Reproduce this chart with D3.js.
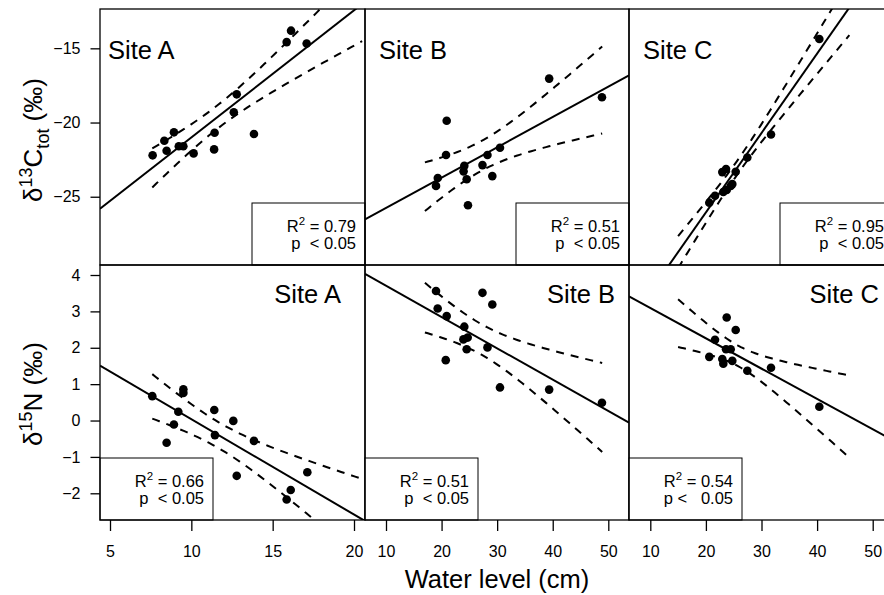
<!DOCTYPE html>
<html>
<head>
<meta charset="utf-8">
<script src="https://cdn.jsdelivr.net/npm/d3@7"></script>
<style>
body{margin:0;background:#fff}
text{font-family:"Liberation Sans",Arial,Helvetica,sans-serif;fill:#000;white-space:pre}
</style>
</head>
<body>
<script>
// water level (cm) and isotope values
var xA_C=[7.62,8.34,8.48,8.93,9.23,9.51,10.14,11.43,11.40,12.61,12.79,13.85,15.86,16.13,17.09];
var yA_C=[-22.21,-21.23,-21.90,-20.66,-21.60,-21.60,-22.08,-20.69,-21.81,-19.31,-18.10,-20.77,-14.58,-13.81,-14.68];
var xB_C=[20.92,20.80,19.32,19.00,24.09,23.96,24.52,24.75,27.36,28.26,29.13,30.51,39.36,48.86];
var yB_C=[-19.88,-22.19,-23.74,-24.27,-22.92,-23.29,-23.82,-25.57,-22.87,-22.19,-23.61,-21.70,-17.04,-18.30];
var xC_C=[20.61,21.64,22.95,23.13,23.62,23.74,24.46,24.75,25.36,27.45,31.71,40.40];
var yC_C=[-25.40,-24.93,-23.34,-24.68,-23.13,-24.55,-24.28,-24.15,-23.32,-22.36,-20.81,-14.37];

var xA_N=[7.60,8.48,8.93,9.20,9.51,9.51,11.41,11.45,12.58,12.79,13.85,15.86,16.11,17.13];
var yA_N=[0.67,-0.61,-0.11,0.24,0.86,0.76,0.29,-0.40,-0.01,-1.52,-0.56,-2.17,-1.91,-1.42];
var xB_N=[19.00,19.30,20.92,20.75,24.09,23.93,24.70,24.52,27.36,29.13,28.26,30.51,39.36,48.86];
var yB_N=[3.56,3.08,2.87,1.66,2.58,2.23,2.28,1.96,3.51,3.19,2.01,0.91,0.85,0.49];
var xC_N=[20.61,21.64,22.95,23.13,23.62,23.74,24.46,24.75,25.36,27.45,31.71,40.40];
var yC_N=[1.75,2.22,1.69,1.56,1.96,2.83,1.96,1.64,2.49,1.37,1.45,0.38];

// x range of the dashed confidence bands
var bandA=[7.6,20.5], bandB=[17,48.9], bandC=[15,45.8];

var siteNames=["Site A","Site B","Site C"];
var r2Top=["0.79","0.51","0.95"], r2Bottom=["0.66","0.51","0.54"];
var pTop=["p  < 0.05","p  < 0.05","p  < 0.05"], pBottom=["p  < 0.05","p  < 0.05","p <   0.05"];

var xTicksA=[5,10,15,20], xTicksBC=[10,20,30,40,50];
var yTicksTop=[-15,-20,-25], yTicksBottom=[-2,-1,0,1,2,3,4];

// two-sided 95% t quantiles
var tCrit={10:2.228,11:2.201,12:2.179,13:2.160,14:2.145};

var svgWidth=884, svgHeight=595;
var svg=d3.select("body").append("svg")
  .attr("width",svgWidth)
  .attr("height",svgHeight);

var colLeft=[100,365,629], colRight=[365,629,893];
var rowTop=[9,265], rowBottom=[265,520];

var xScales=[
  d3.scaleLinear().domain([4.385,20.676]).range([100,365]),
  d3.scaleLinear().domain([6.221,53.725]).range([365,629]),
  d3.scaleLinear().domain([6.169,53.65]).range([629,893])
];
var yScales=[
  d3.scaleLinear().domain([-29.6,-12.35]).range([265,9]),
  d3.scaleLinear().domain([-2.734,4.275]).range([520,265])
];

var panels=[
  {row:0,col:0,x:xA_C,y:yA_C,band:bandA,r2:r2Top[0],p:pTop[0]},
  {row:0,col:1,x:xB_C,y:yB_C,band:bandB,r2:r2Top[1],p:pTop[1]},
  {row:0,col:2,x:xC_C,y:yC_C,band:bandC,r2:r2Top[2],p:pTop[2]},
  {row:1,col:0,x:xA_N,y:yA_N,band:bandA,r2:r2Bottom[0],p:pBottom[0]},
  {row:1,col:1,x:xB_N,y:yB_N,band:bandB,r2:r2Bottom[1],p:pBottom[1]},
  {row:1,col:2,x:xC_N,y:yC_N,band:bandC,r2:r2Bottom[2],p:pBottom[2]}
];
// site label placement (top row left, bottom row right)
var labelPos=[[108,59],[379,59],[643,59],[341,303],[615,303],[879,303]];

function fit(xs,ys){
  var n=xs.length, mx=d3.mean(xs), my=d3.mean(ys);
  var sxx=0,sxy=0,syy=0;
  for(var i=0;i<n;i++){
    sxx+=(xs[i]-mx)*(xs[i]-mx);
    sxy+=(xs[i]-mx)*(ys[i]-my);
    syy+=(ys[i]-my)*(ys[i]-my);
  }
  var b=sxy/sxx, a=my-b*mx;
  var s=Math.sqrt((syy-b*sxy)/(n-2));
  return {a:a,b:b,s:s,n:n,mx:mx,sxx:sxx,t:tCrit[n-2]};
}

panels.forEach(function(p,k){
  var xs=xScales[p.col], ys=yScales[p.row];
  var x0=colLeft[p.col], x1=colRight[p.col], y0=rowTop[p.row], y1=rowBottom[p.row];
  var g=svg.append("g");
  svg.append("clipPath").attr("id","clip"+k)
    .append("rect").attr("x",x0).attr("y",y0).attr("width",x1-x0).attr("height",y1-y0);
  var inner=g.append("g").attr("clip-path","url(#clip"+k+")");
  var m=fit(p.x,p.y);

  var line=d3.line().x(function(d){return xs(d[0]);}).y(function(d){return ys(d[1]);});
  var dom=xs.domain();
  inner.append("path")
    .attr("d",line([[dom[0],m.a+m.b*dom[0]],[dom[1],m.a+m.b*dom[1]]]))
    .attr("fill","none").attr("stroke","#000").attr("stroke-width",2);

  var steps=d3.range(0,61).map(function(i){return p.band[0]+(p.band[1]-p.band[0])*i/60;});
  [-1,1].forEach(function(sg){
    var pts=steps.map(function(v){
      var se=m.s*Math.sqrt(1/m.n+(v-m.mx)*(v-m.mx)/m.sxx);
      return [v,m.a+m.b*v+sg*m.t*se];
    });
    inner.append("path").attr("d",line(pts))
      .attr("fill","none").attr("stroke","#000").attr("stroke-width",2)
      .attr("stroke-dasharray","8,7");
  });

  inner.selectAll("circle").data(p.x).enter().append("circle")
    .attr("cx",function(d){return xs(d);})
    .attr("cy",function(d,i){return ys(p.y[i]);})
    .attr("r",4.3).attr("fill","#000");

  // stats box
  var bw=113, bh=62;
  var bx=p.row===0?x1-bw:x0, by=y1-bh;
  g.append("rect").attr("x",bx).attr("y",by).attr("width",bw).attr("height",bh)
    .attr("fill","#fff").attr("stroke","#000").attr("stroke-width",1);
  var t1=g.append("text").attr("x",bx+bw-9).attr("y",y1-33)
    .attr("text-anchor","end").style("font-size","16.5px");
  t1.append("tspan").text("R");
  t1.append("tspan").attr("dy",-7).style("font-size","11.5px").text("2");
  t1.append("tspan").attr("dy",7).text(" = "+p.r2);
  g.append("text").attr("x",bx+bw-9).attr("y",y1-16)
    .attr("text-anchor","end").style("font-size","16.5px").text(p.p);

  g.append("text").attr("x",labelPos[k][0]).attr("y",labelPos[k][1])
    .attr("text-anchor",p.row===0?"start":"end")
    .style("font-size","25.5px").text(siteNames[p.col]);

  g.append("rect").attr("x",x0).attr("y",y0).attr("width",x1-x0).attr("height",y1-y0)
    .attr("fill","none").attr("stroke","#000").attr("stroke-width",1.3);
});

// axes
var fmt=d3.format("d");
var yAxisTop=d3.axisLeft(yScales[0]).tickValues(yTicksTop).tickSize(9.5).tickPadding(10).tickFormat(fmt);
var yAxisBottom=d3.axisLeft(yScales[1]).tickValues(yTicksBottom).tickSize(9.5).tickPadding(10).tickFormat(fmt);
[yAxisTop,yAxisBottom].forEach(function(a){
  var ax=svg.append("g").attr("transform","translate(100,0)").call(a);
  ax.select(".domain").remove();
  ax.selectAll("line").attr("stroke-width",1.3);
  ax.selectAll("text").style("font-size","16px").attr("font-family",null);
});
[d3.axisBottom(xScales[0]).tickValues(xTicksA),
 d3.axisBottom(xScales[1]).tickValues(xTicksBC),
 d3.axisBottom(xScales[2]).tickValues(xTicksBC)].forEach(function(a){
  var ax=svg.append("g").attr("transform","translate(0,520)")
    .call(a.tickSize(11).tickPadding(15).tickFormat(fmt));
  ax.select(".domain").remove();
  ax.selectAll("line").attr("stroke-width",1.3);
  ax.selectAll("text").style("font-size","16px").attr("font-family",null);
});

// axis titles
var yt=svg.append("text").attr("transform","translate(42,140) rotate(-90)")
  .attr("text-anchor","middle").style("font-size","26px");
yt.append("tspan").text("\u03b4");
yt.append("tspan").attr("dy",-10).style("font-size","18px").text("13");
yt.append("tspan").attr("dy",10).text("C");
yt.append("tspan").attr("dy",7).style("font-size","18px").text("tot");
yt.append("tspan").attr("dy",-7).text(" (\u2030)");

var yb=svg.append("text").attr("transform","translate(42,394) rotate(-90)")
  .attr("text-anchor","middle").style("font-size","26px");
yb.append("tspan").text("\u03b4");
yb.append("tspan").attr("dy",-10).style("font-size","18px").text("15");
yb.append("tspan").attr("dy",10).text("N (\u2030)");

svg.append("text").attr("x",497).attr("y",588).attr("text-anchor","middle")
  .style("font-size","25.5px").text("Water level (cm)");
</script>
</body>
</html>
